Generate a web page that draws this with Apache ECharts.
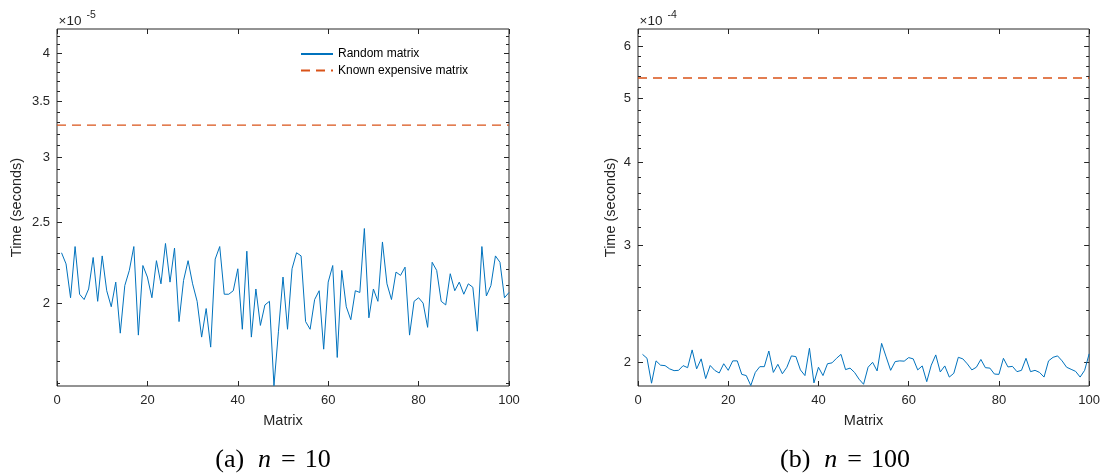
<!DOCTYPE html>
<html>
<head>
<meta charset="utf-8">
<script src="https://cdn.jsdelivr.net/npm/echarts@6/dist/echarts.min.js"></script>
<style>
html,body{margin:0;padding:0;background:#ffffff;}
#chart{width:1103px;height:474px;}
</style>
</head>
<body>
<div id="chart"></div>
<script>
// ---------------- data ----------------
// matrix index (x categories)
const matrixIndex = Array.from({length: 100}, (_, i) => i + 1);

// Panel (a): n = 10, times in units of 1e-5 s
const randomTimesA = [
  2.30,2.23,2.03,2.34,2.05,2.02,2.08,2.27,2.01,2.28,
  2.07,1.98,2.12,1.84,2.10,2.19,2.34,1.83,2.22,2.15,
  2.03,2.25,2.11,2.36,2.12,2.33,1.90,2.13,2.25,2.11,
  2.01,1.82,1.97,1.77,2.26,2.34,2.05,2.05,2.07,2.20,
  1.86,2.31,1.82,2.08,1.88,1.99,2.01,1.59,1.85,2.15,
  1.86,2.20,2.30,2.28,1.90,1.86,2.02,2.07,1.76,2.12,
  2.22,1.72,2.19,1.98,1.91,2.07,2.06,2.46,1.92,2.08,
  2.01,2.37,2.11,2.02,2.18,2.16,2.21,1.83,2.01,2.03,
  2.00,1.87,2.24,2.19,2.01,1.99,2.17,2.07,2.12,2.05,
  2.11,2.09,1.85,2.34,2.04,2.10,2.28,2.24,2.03,2.06
];
const expensiveTimeA = 3.278;
const yRangeA = [1.589, 4.28];
const yMajorA = [2, 2.5, 3, 3.5, 4];
const yMinorA = [1.6,1.7,1.8,1.9,2.1,2.2,2.3,2.4,2.6,2.7,2.8,2.9,3.1,3.2,3.3,3.4,3.6,3.7,3.8,3.9,4.1,4.2];
const exponentA = '-5';

// Panel (b): n = 100, times in units of 1e-4 s
const randomTimesB = [
  2.056,2.028,1.860,2.010,1.980,1.977,1.955,1.943,1.945,1.977,
  1.963,2.088,1.955,2.024,1.890,1.978,1.945,1.927,1.990,1.945,
  2.010,2.010,1.918,1.910,1.845,1.931,1.970,1.970,2.080,1.931,
  1.986,1.922,1.966,2.045,2.040,1.948,1.910,2.100,1.862,1.966,
  1.910,1.990,1.996,2.028,2.056,1.950,1.960,1.931,1.886,1.853,
  1.966,2.000,1.941,2.136,2.038,1.945,2.005,2.010,2.008,2.033,
  2.024,1.948,1.975,1.870,1.980,2.052,1.934,1.975,1.900,1.925,
  2.035,2.024,1.989,1.948,1.966,2.020,1.963,1.960,1.920,1.918,
  2.028,1.968,1.972,1.936,1.945,2.028,1.936,1.945,1.931,1.900,
  2.010,2.035,2.045,2.010,1.966,1.952,1.938,1.900,1.945,2.060
];
const expensiveTimeB = 5.37;
const yRangeB = [1.842, 6.365];
const yMajorB = [2, 3, 4, 5, 6];
const yMinorB = [2.2,2.4,2.6,2.8,3.2,3.4,3.6,3.8,4.2,4.4,4.6,4.8,5.2,5.4,5.6,5.8,6.2];
const exponentB = '-4';

const xRange = [0, 100];
const xTickInterval = 20;
const seriesNames = ['Random matrix', 'Known expensive matrix'];
const captions = [['(a)', 'n', '=', '10'], ['(b)', 'n', '=', '100']];

// ---------------- style ----------------
const AX = '#262626';
const BLUE = '#0072BD';
const ORANGE = '#D95319';
const SANS = 'Liberation Sans';
const SERIF = 'Liberation Serif';
const lg = v => Math.log10(v);
const fmt = v => String(Math.round(v * 100) / 100);

const grids = [
  {left: 57, top: 29, width: 452, height: 357},
  {left: 638, top: 29, width: 452, height: 357}
];

const xAxes = [];
const yAxes = [];
const series = [];
const graphics = [];

function addPanel(g, randomTimes, expTime, yRange, yMajor, yMinor, exponent, nameGap, cap, capX) {
  // x axes (bottom with labels, top mirrored ticks)
  const xb = xAxes.length;
  xAxes.push({
    type: 'value', gridIndex: g, position: 'bottom', min: xRange[0], max: xRange[1], interval: xTickInterval,
    axisLine: {show: false, onZero: false}, splitLine: {show: false},
    axisTick: {show: true, inside: true, length: 5, lineStyle: {color: AX, width: 1}},
    axisLabel: {show: true, margin: 8, color: AX, fontSize: 13, fontFamily: SANS},
    name: 'Matrix', nameLocation: 'middle', nameGap: 27,
    nameTextStyle: {color: AX, fontSize: 14.5, fontFamily: SANS}
  });
  xAxes.push({
    type: 'value', gridIndex: g, position: 'top', min: xRange[0], max: xRange[1], interval: xTickInterval,
    axisLine: {show: false, onZero: false}, splitLine: {show: false},
    axisTick: {show: true, inside: true, length: 5, lineStyle: {color: AX, width: 1}},
    axisLabel: {show: false}
  });
  // log data axis (hidden)
  const yl = yAxes.length;
  yAxes.push({type: 'log', gridIndex: g, logBase: 10, min: yRange[0], max: yRange[1], show: false});
  // tick axes in log10 space
  const lmin = lg(yRange[0]), lmax = lg(yRange[1]);
  const mk = (pos, vals, len, labels, withName) => {
    const a = {
      type: 'value', gridIndex: g, position: pos, min: lmin, max: lmax, offset: 0,
      axisLine: {show: false, onZero: false}, splitLine: {show: false},
      axisTick: {show: true, inside: true, length: len, customValues: vals.map(lg), lineStyle: {color: AX, width: 1}},
      axisLabel: labels ? {show: true, customValues: vals.map(lg), formatter: v => fmt(Math.pow(10, v)), margin: 7, color: AX, fontSize: 13, fontFamily: SANS} : {show: false}
    };
    if (withName) {
      a.name = 'Time (seconds)';
      a.nameLocation = 'middle';
      a.nameGap = nameGap;
      a.nameRotate = 90;
      a.nameTextStyle = {color: AX, fontSize: 14.5, fontFamily: SANS};
    }
    return a;
  };
  yAxes.push(mk('left', yMajor, 5, true, true));
  yAxes.push(mk('left', yMinor, 3, false, false));
  yAxes.push(mk('right', yMajor, 5, false, false));
  yAxes.push(mk('right', yMinor, 3, false, false));

  series.push({
    name: seriesNames[0], type: 'line', xAxisIndex: xb, yAxisIndex: yl,
    data: matrixIndex.map((x, i) => [x, randomTimes[i]]),
    symbol: 'none', showSymbol: false, animation: false,
    lineStyle: {color: BLUE, width: 1}, itemStyle: {color: BLUE}
  });
  series.push({
    name: seriesNames[1], type: 'line', xAxisIndex: xb, yAxisIndex: yl,
    data: xRange.map(x => [x, expTime]),
    symbol: 'none', showSymbol: false, animation: false,
    lineStyle: {color: ORANGE, width: 1.4, type: [9, 6]}, itemStyle: {color: ORANGE}
  });

  // exponent label
  const gx = grids[g].left;
  graphics.push({type: 'text', x: gx + 1.5, y: 21, style: {text: '×10', fill: AX, fontSize: 13.5, fontFamily: SANS, verticalAlign: 'middle', align: 'left'}});
  graphics.push({type: 'text', x: gx + 29.5, y: 15.5, style: {text: exponent, fill: AX, fontSize: 10.5, fontFamily: SANS, verticalAlign: 'middle', align: 'left'}});
  // caption
  graphics.push({type: 'text', x: capX, y: 460, style: {
    text: '{r|' + cap[0] + '}{i|' + cap[1] + '}{e|' + cap[2] + '}{r|' + cap[3] + '}',
    rich: {
      r: {fontFamily: SERIF, fontSize: 26, fill: '#000'},
      i: {fontFamily: SERIF, fontSize: 26, fontStyle: 'italic', fill: '#000', padding: [0, 10, 0, 14]},
      e: {fontFamily: SERIF, fontSize: 26, fill: '#000', padding: [0, 9, 0, 0]}
    },
    align: 'center', verticalAlign: 'middle'
  }});
}

addPanel(0, randomTimesA, expensiveTimeA, yRangeA, yMajorA, yMinorA, exponentA, 33, captions[0], 273);
addPanel(1, randomTimesB, expensiveTimeB, yRangeB, yMajorB, yMinorB, exponentB, 20, captions[1], 845);

const option = {
  backgroundColor: '#ffffff',
  animation: false,
  grid: grids.map(g => Object.assign({show: true, borderColor: AX, borderWidth: 1, backgroundColor: 'transparent', containLabel: false}, g)),
  xAxis: xAxes,
  yAxis: yAxes,
  legend: {
    data: seriesNames,
    orient: 'vertical', left: 300, top: 48, padding: 0,
    itemWidth: 32, itemHeight: 14, itemGap: 4.5,
    itemStyle: {opacity: 0},
    textStyle: {color: '#000', fontSize: 12, fontFamily: SANS},
    selectedMode: false
  },
  series: series,
  graphic: graphics
};

const chart = echarts.init(document.getElementById('chart'), null, {renderer: 'canvas'});
chart.setOption(option);
</script>
</body>
</html>
